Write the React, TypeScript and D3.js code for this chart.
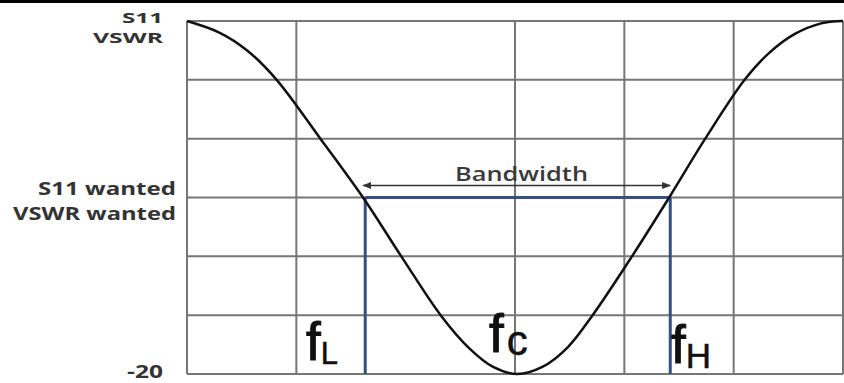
import React from "react";
import * as d3 from "d3";

const W = 844;
const H = 383;

// Curve readings: x in grid columns (0..6), y in grid rows (0 = -20 at bottom, 6 = top)
const curveX = [0, 0.3, 0.55, 0.82, 1.22, 1.61, 1.96, 2.32, 2.58, 2.8, 3.02, 3.25, 3.48, 3.71, 4.07, 4.41, 4.74, 5.1, 5.32, 5.56, 5.8, 6.0];
const curveY = [6.0, 5.8, 5.5, 5.0, 4.0, 3.0, 2.0, 1.0, 0.44, 0.12, 0.0, 0.12, 0.45, 1.0, 2.0, 3.0, 4.0, 5.0, 5.45, 5.78, 5.96, 6.0];

const vGrid = [0, 1, 3, 4, 5, 6];
const hGrid = [0, 1, 2, 3, 4, 5, 6];

const wantedLevel = 3;
const fL = 1.63;
const fH = 4.42;

const yLabelsTop = ["S11", "VSWR"];
const yLabelsWanted = ["S11 wanted", "VSWR wanted"];
const yLabelBottom = "-20";
const bandLabel = "Bandwidth";

export default function App() {
  const x = d3.scaleLinear().domain([0, 6]).range([187, 843]);
  const y = d3.scaleLinear().domain([0, 6]).range([374, 21]);
  const pts: [number, number][] = curveX.map((v, i) => [v, curveY[i]]);
  const line = d3
    .line<[number, number]>()
    .x((d) => x(d[0]))
    .y((d) => y(d[1]))
    .curve(d3.curveCatmullRom.alpha(0.5));

  const gridColor = "#767676";
  const blue = "#34507e";
  const arrowY = y(wantedLevel) - 12;
  const labelFont = "'Open Sans', 'DejaVu Sans', sans-serif";
  const fFont = "'Liberation Sans', Arial, sans-serif";
  const lab = { fontFamily: labelFont, fontWeight: 700, fontSize: 18, fill: "#333" } as const;
  const labTop = { ...lab, fontSize: 15 } as const;

  return (
    <svg
      width={W}
      height={H}
      style={{ position: "absolute", left: 0, top: 0, display: "block", background: "#fff" }}
    >
      <defs>
        <marker id="arr" viewBox="0 0 10 10" refX="9" refY="5" markerWidth="9" markerHeight="9" orient="auto-start-reverse" markerUnits="userSpaceOnUse">
          <path d="M0,1 L10,5 L0,9 Z" fill="#333" />
        </marker>
      </defs>
      <rect x={0} y={0} width={W} height={3} fill="#000" />

      {hGrid.map((g) => (
        <line key={"h" + g} x1={x(0)} x2={x(6)} y1={y(g)} y2={y(g)} stroke={gridColor} strokeWidth={2} />
      ))}
      {vGrid.map((g) => (
        <line key={"v" + g} x1={x(g)} x2={x(g)} y1={y(0)} y2={y(6)} stroke={gridColor} strokeWidth={2} />
      ))}

      {/* bandwidth box */}
      <line x1={x(fL)} x2={x(fH)} y1={y(wantedLevel)} y2={y(wantedLevel)} stroke={blue} strokeWidth={3} />
      <line x1={x(fL)} x2={x(fL)} y1={y(wantedLevel)} y2={y(0)} stroke={blue} strokeWidth={3} />
      <line x1={x(fH)} x2={x(fH)} y1={y(wantedLevel)} y2={y(0)} stroke={blue} strokeWidth={3} />

      <path d={line(pts) || ""} fill="none" stroke="#111" strokeWidth={2.5} />

      {/* bandwidth arrow */}
      <line
        x1={x(fL) - 2}
        x2={x(fH)}
        y1={arrowY}
        y2={arrowY}
        stroke="#333"
        strokeWidth={1.3}
        markerStart="url(#arr)"
        markerEnd="url(#arr)"
      />
      <text x={455} y={arrowY - 5} textLength={133} lengthAdjust="spacingAndGlyphs" fontFamily={labelFont} fontWeight={600} fontSize={19} fill="#3a3a3a">
        {bandLabel}
      </text>

      {/* y labels */}
      <text x={122} y={23} textLength={41} lengthAdjust="spacingAndGlyphs" {...labTop}>
        {yLabelsTop[0]}
      </text>
      <text x={93} y={43} textLength={70} lengthAdjust="spacingAndGlyphs" {...labTop}>
        {yLabelsTop[1]}
      </text>
      <text x={38} y={195} textLength={138} lengthAdjust="spacingAndGlyphs" {...lab}>
        {yLabelsWanted[0]}
      </text>
      <text x={13} y={220} textLength={163} lengthAdjust="spacingAndGlyphs" {...lab}>
        {yLabelsWanted[1]}
      </text>
      <text x={127} y={378} textLength={36} lengthAdjust="spacingAndGlyphs" {...lab}>
        {yLabelBottom}
      </text>

      {/* frequency labels */}
      <text x={306} y={360} fontFamily={fFont} fontSize={53} fill="#111" stroke="#111" strokeWidth={1}>
        f<tspan fontSize={31} dy={4} strokeWidth={0.5}>L</tspan>
      </text>
      <text x={489} y={352} fontFamily={fFont} fontSize={53} fill="#111" stroke="#111" strokeWidth={1}>
        f<tspan fontSize={42} dy={3} dx={3} strokeWidth={0.5}>c</tspan>
      </text>
      <text x={671} y={363} fontFamily={fFont} fontSize={53} fill="#111" stroke="#111" strokeWidth={1}>
        f<tspan fontSize={35} dy={5} strokeWidth={0.5}>H</tspan>
      </text>
    </svg>
  );
}
